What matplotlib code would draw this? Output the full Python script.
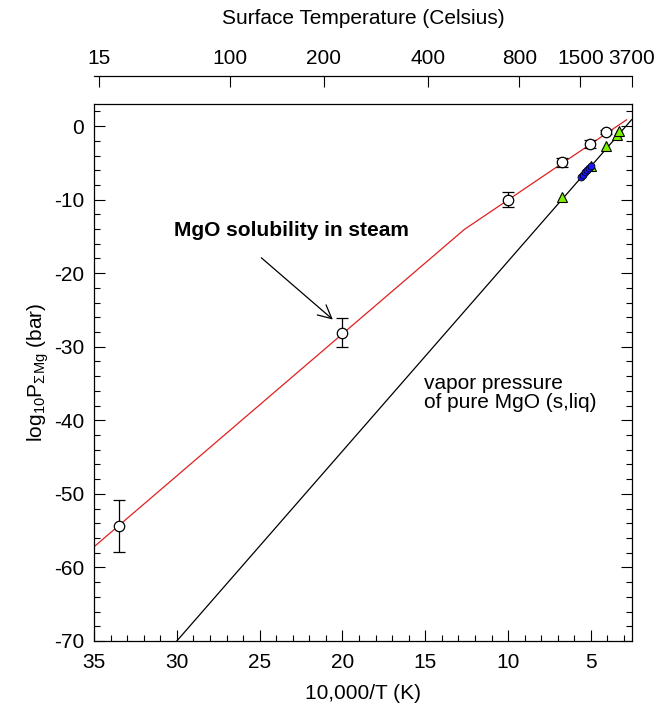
import numpy as np
import matplotlib
matplotlib.use("Agg")
import matplotlib.pyplot as plt
from matplotlib.ticker import MultipleLocator

plt.rcParams['font.family'] = ['Liberation Sans', 'DejaVu Sans']
plt.rcParams['mathtext.fontset'] = 'custom'
plt.rcParams['mathtext.rm'] = 'Liberation Sans'
plt.rcParams['mathtext.it'] = 'Liberation Sans:italic'
plt.rcParams['axes.unicode_minus'] = False

# red line: MgO solubility in steam
steam_x = [35.0, 12.65, 2.85]
steam_y = [-57.2, -14.07, 0.85]

# black line: vapor pressure of pure MgO
vap_x = [30.0, 2.55]
vap_y = [-70.0, 0.85]

# open circles with error bars
circ_x = [33.5, 20.0, 10.0, 6.73, 5.06, 4.08]
circ_y = [-54.4, -28.1, -10.0, -4.95, -2.4, -0.8]
circ_err = [3.5, 2.0, 1.0, 0.65, 0.55, 0.3]

# green triangles
tri_x = [6.73, 5.02, 4.08, 3.40, 3.31]
tri_y = [-9.6, -5.4, -2.75, -1.2, -0.65]

# blue filled circles
blue_x = [5.60, 5.48, 5.36, 5.24, 5.12, 5.02]
blue_y = [-6.9, -6.6, -6.25, -5.95, -5.65, -5.4]

# top axis temperatures (Celsius)
celsius = [15, 100, 200, 400, 800, 1500, 3700]

FS = 15

fig = plt.figure(figsize=(6.7, 7.1), dpi=100)
ax = fig.add_axes([0.1403, 0.0972, 0.8030, 0.7563])

ax.plot(steam_x, steam_y, color='#e02020', lw=0.9, zorder=2)
ax.plot(vap_x, vap_y, color='black', lw=0.9, zorder=2)
ax.errorbar(circ_x, circ_y, yerr=circ_err, fmt='o', mfc='white', mec='black',
            mew=0.9, ms=7.5, ecolor='black', elinewidth=0.9, capsize=4,
            capthick=0.9, zorder=4)
ax.plot(tri_x, tri_y, '^', mfc='#7cf000', mec='black', mew=0.8, ms=7.5, zorder=3)
ax.plot(blue_x, blue_y, 'o', mfc='#1a1aff', mec='black', mew=0.6, ms=5, zorder=5)

ax.set_xlim(35, 10000 / (3700 + 273.15))
ax.set_ylim(-70, 3)
ax.xaxis.set_major_locator(MultipleLocator(5))
ax.xaxis.set_minor_locator(MultipleLocator(1))
ax.yaxis.set_major_locator(MultipleLocator(10))
ax.yaxis.set_minor_locator(MultipleLocator(2))
ax.tick_params(which='both', direction='in', top=True, right=True,
               labelsize=FS, width=0.8)
ax.tick_params(which='major', length=8)
ax.tick_params(axis='x', which='major', pad=9)
ax.tick_params(axis='y', which='major', pad=7)
ax.tick_params(which='minor', length=4)
for s in ax.spines.values():
    s.set_linewidth(0.9)

ax.set_xlabel('10,000/T (K)', fontsize=FS, labelpad=8)
ax.set_ylabel(r'log$_{10}$P$_{\Sigma\mathrm{Mg}}$ (bar)', fontsize=FS, labelpad=2)

ax.text(30.18, -14.25, 'MgO solubility in steam', fontsize=FS,
        fontweight='bold', ha='left', va='center')
ax.annotate('', xy=(20.58, -26.3), xytext=(24.9, -17.9),
            arrowprops=dict(arrowstyle='->', color='black', lw=0.9,
                            mutation_scale=24, shrinkA=0, shrinkB=0))
ax.text(15.06, -36.3, 'vapor pressure\nof pure MgO (s,liq)', fontsize=FS,
        ha='left', va='center', linespacing=1.05)

ax2 = ax.twiny()
ax2.set_xlim(ax.get_xlim())
ax2.set_xticks([10000 / (c + 273.15) for c in celsius])
ax2.set_xticklabels([str(c) for c in celsius])
ax2.xaxis.set_minor_locator(plt.NullLocator())
ax2.spines['top'].set_position(('outward', 20))
for k in ['bottom', 'left', 'right']:
    ax2.spines[k].set_visible(False)
ax2.spines['top'].set_linewidth(0.9)
ax2.tick_params(axis='x', direction='in', length=8, width=0.8, pad=6, labelsize=FS)
ax2.set_xlabel('Surface Temperature (Celsius)', fontsize=FS, labelpad=18)

fig.savefig('out.png', dpi=100)
